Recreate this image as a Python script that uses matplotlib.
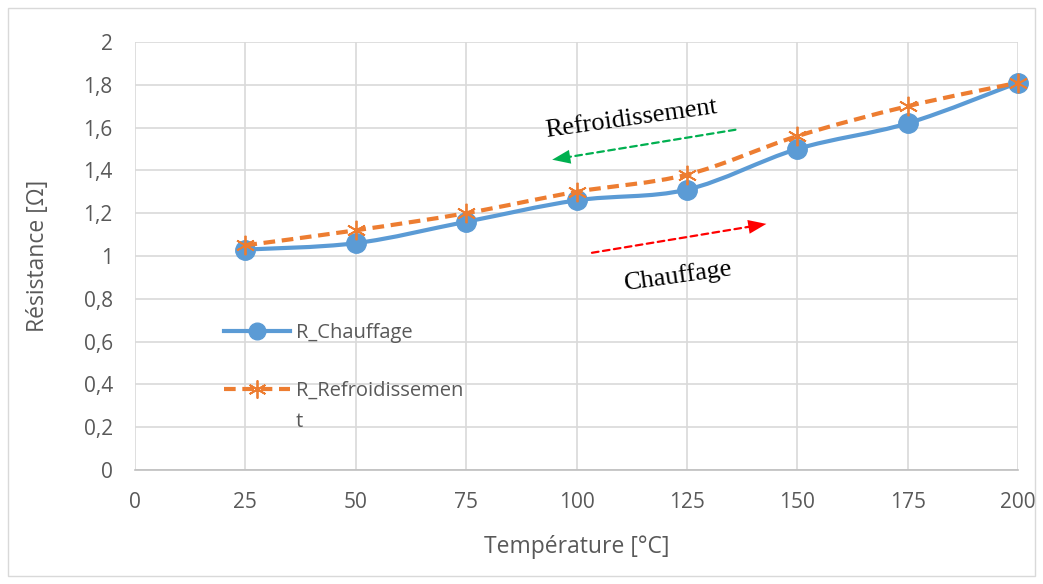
import numpy as np
import matplotlib
matplotlib.use("Agg")
from matplotlib import pyplot as plt
from matplotlib.path import Path
from matplotlib.patches import PathPatch, Rectangle
from matplotlib.lines import Line2D

temperature = [25, 50, 75, 100, 125, 150, 175, 200]
r_chauffage = [1.03, 1.06, 1.16, 1.26, 1.31, 1.50, 1.62, 1.81]
r_refroid = [1.05, 1.12, 1.20, 1.30, 1.38, 1.56, 1.70, 1.81]
x_ticks = [0, 25, 50, 75, 100, 125, 150, 175, 200]
y_ticks = [0, 0.2, 0.4, 0.6, 0.8, 1.0, 1.2, 1.4, 1.6, 1.8, 2.0]

blue = "#5B9BD5"
orange = "#ED7D31"
grey = "#595959"
font = "Open Sans"


def smooth_path(x, y):
    # courbe lissée façon Excel (Catmull-Rom -> Bezier)
    x = np.asarray(x, float)
    y = np.asarray(y, float)
    verts = [(x[0], y[0])]
    codes = [Path.MOVETO]
    n = len(x)
    for i in range(n - 1):
        p0 = i - 1 if i > 0 else i
        p3 = i + 2 if i + 2 < n else i + 1
        c1 = (x[i] + (x[i + 1] - x[p0]) / 6, y[i] + (y[i + 1] - y[p0]) / 6)
        c2 = (x[i + 1] - (x[p3] - x[i]) / 6, y[i + 1] - (y[p3] - y[i]) / 6)
        verts += [c1, c2, (x[i + 1], y[i + 1])]
        codes += [Path.CURVE4] * 3
    return Path(verts, codes)


def dashed_arrow(ax, start, end, color):
    # tige en pointillés + tête pleine
    ax.annotate("", xy=end, xytext=start,
                arrowprops=dict(arrowstyle="-", color=color, lw=1.6,
                                ls=(0, (3, 2)), shrinkA=0, shrinkB=8))
    f = 0.12
    mid = (end[0] - f * (end[0] - start[0]), end[1] - f * (end[1] - start[1]))
    ax.annotate("", xy=end, xytext=mid,
                arrowprops=dict(arrowstyle="-|>,head_length=1.3,head_width=0.5",
                                color=color, lw=0.01, shrinkA=0, shrinkB=0))


fig = plt.figure(figsize=(10.43, 5.84), dpi=100)
fig.patches.append(Rectangle((8 / 1043, 8 / 584), 1 - 16 / 1043, 1 - 16 / 584,
                             transform=fig.transFigure, fill=False,
                             edgecolor="#d9d9d9", lw=1))
ax = fig.add_axes([135 / 1043, 1 - 470 / 584, 883 / 1043, 428 / 584])

ax.add_patch(PathPatch(smooth_path(temperature, r_chauffage), fill=False,
                       edgecolor=blue, lw=3, capstyle="round", zorder=3))
ax.plot(temperature, r_chauffage, "o", color=blue, ms=14, zorder=4, clip_on=False)

ax.add_patch(PathPatch(smooth_path(temperature, r_refroid), fill=False,
                       edgecolor=orange, lw=3, linestyle=(0, (2.8, 1.6)), zorder=5))
ax.plot(temperature, r_refroid, ls="none", marker=(6, 2, 0), color=orange,
        ms=14, mew=1.3, zorder=6, clip_on=False)

ax.set_xlim(0, 200)
ax.set_ylim(0, 2)
ax.set_xticks(x_ticks)
ax.set_yticks(y_ticks)
ax.set_xticklabels([str(t) for t in x_ticks])
ax.set_yticklabels([("%g" % v).replace(".", ",") for v in y_ticks])
ax.grid(True, color="#d9d9d9", lw=1.2)
ax.set_axisbelow(True)
for s in ax.spines.values():
    s.set_visible(False)
ax.spines["bottom"].set_visible(True)
ax.spines["bottom"].set_color("#bfbfbf")
ax.spines["bottom"].set_linewidth(1.2)
ax.tick_params(length=0, labelsize=15, labelcolor=grey)
ax.tick_params(axis="x", pad=16)
ax.tick_params(axis="y", pad=16)
for lab in ax.get_xticklabels() + ax.get_yticklabels():
    lab.set_fontfamily(font)

ax.set_xlabel("Température [°C]", fontsize=16.5, color=grey, family=font, labelpad=16)
ax.set_ylabel("Résistance [Ω]", fontsize=16.5, color=grey, family=font, labelpad=24)

h1 = Line2D([], [], color=blue, lw=3, marker="o", ms=12)
h2 = Line2D([], [], color=orange, lw=3, ls=(0, (2.8, 1.6)), marker=(6, 2, 0),
            ms=13, mew=1.3)
leg = ax.legend([h1, h2], ["R_Chauffage", "R_Refroidissemen"],
                loc="upper left", bbox_to_anchor=(0.08, 0.385), frameon=False,
                handlelength=3.3, handletextpad=0.3, labelspacing=1.85,
                prop={"family": font, "size": 14.5}, labelcolor=grey)

# fin du libellé coupée sur une deuxième ligne, comme dans Excel
fig.canvas.draw()
tb = leg.get_texts()[1].get_window_extent()
inv = fig.transFigure.inverted()
x0, y0 = inv.transform((tb.x0 - 1, tb.y0 - 31))
fig.text(x0, y0, "t", family=font, fontsize=14.5, color=grey, ha="left", va="bottom")

# flèches et textes
dashed_arrow(ax, (136, 1.59), (94.5, 1.45), "#00B050")
dashed_arrow(ax, (103.5, 1.015), (143, 1.15), "#FF0000")
ax.text(112.5, 1.64, "Refroidissement", family="Liberation Serif", fontsize=19,
        rotation=8, ha="center", va="center", rotation_mode="anchor")
ax.text(123, 0.905, "Chauffage", family="Liberation Serif", fontsize=19,
        rotation=8, ha="center", va="center", rotation_mode="anchor")

fig.savefig("out.png", dpi=100)
